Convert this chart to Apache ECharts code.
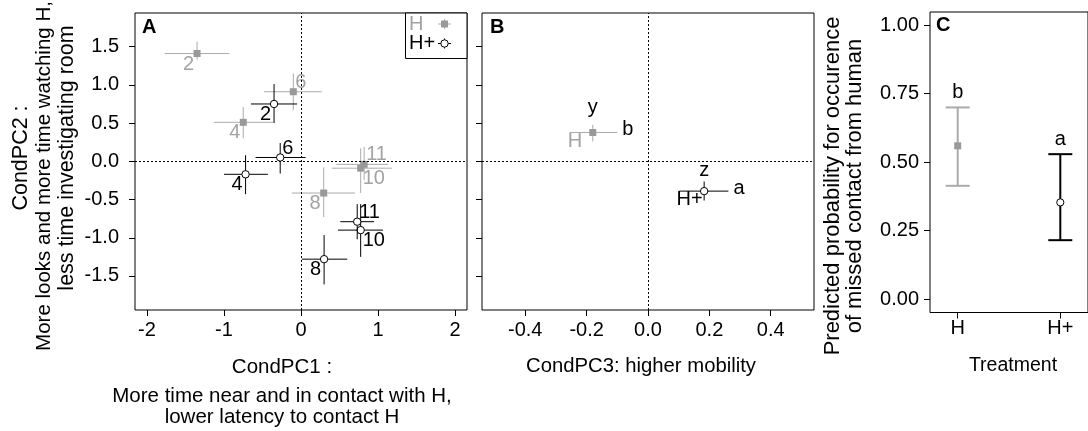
<!DOCTYPE html>
<html><head><meta charset="utf-8">
<script src="https://cdn.jsdelivr.net/npm/echarts@6/dist/echarts.min.js"></script>
<style>html,body{margin:0;padding:0;background:#fff}#c{width:1088px;height:431px}</style>
</head><body><div id="c"></div>
<script>
// ---------------- data ----------------
// Panel A: condition-specific PC scores (mean and CI) per session id
const pointIdsA = ['2','4','6','8','10','11'];
const hPC1    = [-1.35,-0.75,-0.10, 0.295, 0.775, 0.82];
const hPC1Lo  = [-1.77,-1.13,-0.48,-0.12, 0.40, 0.46];
const hPC1Hi  = [-0.93,-0.36, 0.27, 0.70, 1.18, 1.13];
const hPC2    = [ 1.41, 0.51, 0.91,-0.415,-0.09,-0.04];
const hPC2Lo  = [ 1.33, 0.30, 0.67,-0.73,-0.415,-0.245];
const hPC2Hi  = [ 1.565, 0.71, 1.15,-0.08, 0.17, 0.19];
const hpPC1   = [-0.35,-0.72,-0.27, 0.30, 0.775, 0.73];
const hpPC1Lo = [-0.65,-1.00,-0.59, 0.01, 0.48, 0.51];
const hpPC1Hi = [-0.05,-0.43, 0.06, 0.60, 1.065, 0.95];
const hpPC2   = [ 0.75,-0.17, 0.05,-1.28,-0.90,-0.79];
const hpPC2Lo = [ 0.50,-0.43,-0.16,-1.61,-1.25,-1.02];
const hpPC2Hi = [ 1.01, 0.08, 0.24,-0.965,-0.56,-0.56];

// Panel B: PC3 vs PC2 per treatment
const groupsB   = ['H','H+'];
const bPC3      = [-0.180, 0.183];
const bPC3Lo    = [-0.256, 0.102];
const bPC3Hi    = [-0.100, 0.262];
const bPC2      = [ 0.377,-0.390];
const bPC2Lo    = [ 0.259,-0.513];
const bPC2Hi    = [ 0.478,-0.264];
const bTopLetters  = ['y','z'];
const bSideLetters = ['b','a'];

// Panel C: predicted probability per treatment
const treatments = ['H','H+'];
const prob    = [0.5595, 0.353];
const probLo  = [0.4135, 0.215];
const probHi  = [0.6996, 0.529];
const cLetters = ['b','a'];

// tick labels
const xTicksA = [-2,-1,0,1,2];
const yTicksAB = [-1.5,-1,-0.5,0,0.5,1,1.5];
const xTicksB = [-0.4,-0.2,0,0.2,0.4];
const yTicksC = [0,0.25,0.5,0.75,1];
const xTicksC = [1,2];

// ---------------- styles ----------------
const FONT = 'Liberation Sans, Arial, Helvetica, sans-serif';
const FS = 20;
const GRAY_LINE = '#ababab';
const GRAY_FILL = '#999999';
const GRAY_TEXT = '#a3a3a3';
const BLACK = '#000000';
// label placement per point id (style config)
const labelPlaceA = {'2':'bl','4':'bl','6':'tr','8':'bl','10':'br','11':'tr'};
const placeOffsets = {
  bl: {dx:-3, dy:10.5, align:'right'},
  tr: {dx: 2, dy:-9.5, align:'left'},
  br: {dx: 2, dy:10.5, align:'left'}
};
const bTopDy = [-25, -21];
const bNameDx = [-10.5, -1.5];

function txt(x, y, text, color, align, extra, fs) {
  return Object.assign({type:'text', x:x, y:y, silent:true,
    style:{text:text, fill:color, fontSize:fs||FS, fontFamily:FONT, align:align||'center', verticalAlign:'middle'}}, extra||{});
}
function boldTxt(x, y, text) {
  return {type:'text', x:x, y:y, silent:true,
    style:{text:text, fill:BLACK, fontSize:FS, fontWeight:'bold', fontFamily:FONT, align:'left', verticalAlign:'middle'}};
}

function crossShapes(api, color, marker, lw) {
  const x = api.value(0), y = api.value(1);
  const c = api.coord([x, y]);
  const l = api.coord([api.value(2), y]);
  const r = api.coord([api.value(3), y]);
  const b = api.coord([x, api.value(4)]);
  const t = api.coord([x, api.value(5)]);
  const ch = [
    {type:'line', shape:{x1:l[0], y1:c[1], x2:r[0], y2:c[1]}, style:{stroke:color, lineWidth:lw}},
    {type:'line', shape:{x1:c[0], y1:b[1], x2:c[0], y2:t[1]}, style:{stroke:color, lineWidth:lw}}
  ];
  if (marker === 'square') {
    ch.push({type:'rect', shape:{x:c[0]-3.5, y:c[1]-3.5, width:7, height:7}, style:{fill:GRAY_FILL}});
  } else {
    ch.push({type:'circle', shape:{cx:c[0], cy:c[1], r:3.7}, style:{fill:'#fff', stroke:BLACK, lineWidth:1}});
  }
  return {c:c, l:l, r:r, b:b, t:t, children:ch};
}

function renderA(color, marker, textColor) {
  return function(params, api) {
    const s = crossShapes(api, color, marker, 1);
    const id = pointIdsA[params.dataIndex];
    const p = placeOffsets[labelPlaceA[id]];
    s.children.push(txt(s.c[0]+p.dx, s.c[1]+p.dy, id, textColor, p.align));
    return {type:'group', children:s.children};
  };
}

function renderB(params, api) {
  const i = params.dataIndex;
  const isH = i === 0;
  const color = isH ? GRAY_LINE : BLACK;
  const s = crossShapes(api, color, isH ? 'square' : 'circle', 1);
  s.children.push(txt(s.c[0], s.c[1]+bTopDy[i], bTopLetters[i], BLACK, 'center'));
  s.children.push(txt(s.r[0]+5, s.c[1]-3, bSideLetters[i], BLACK, 'left'));
  s.children.push(txt(s.c[0]+bNameDx[i], s.c[1]+8.5, groupsB[i], isH ? GRAY_TEXT : BLACK, 'right'));
  return {type:'group', children:s.children};
}

function renderC(params, api) {
  const i = params.dataIndex;
  const isH = i === 0;
  const color = isH ? GRAY_LINE : BLACK;
  const x = api.value(0);
  const c = api.coord([x, api.value(1)]);
  const lo = api.coord([x, api.value(2)]);
  const hi = api.coord([x, api.value(3)]);
  const hw = 12;
  const ch = [
    {type:'line', shape:{x1:c[0], y1:lo[1], x2:c[0], y2:hi[1]}, style:{stroke:color, lineWidth:2}},
    {type:'line', shape:{x1:c[0]-hw, y1:lo[1], x2:c[0]+hw, y2:lo[1]}, style:{stroke:color, lineWidth:2}},
    {type:'line', shape:{x1:c[0]-hw, y1:hi[1], x2:c[0]+hw, y2:hi[1]}, style:{stroke:color, lineWidth:2}}
  ];
  if (isH) ch.push({type:'rect', shape:{x:c[0]-3.5, y:c[1]-3.5, width:7, height:7}, style:{fill:GRAY_FILL}});
  else ch.push({type:'circle', shape:{cx:c[0], cy:c[1], r:3.6}, style:{fill:'#fff', stroke:BLACK, lineWidth:1}});
  ch.push(txt(c[0], hi[1]-15, cLetters[i], BLACK, 'center'));
  return {type:'group', children:ch};
}

const axisTick = (vals) => ({show:true, customValues:vals, length:6, inside:false, lineStyle:{color:BLACK, width:1}});
const axisLbl = (vals, fmt, margin, show) => ({show:show!==false, customValues:vals, formatter:fmt, margin:margin,
  color:BLACK, fontSize:FS, fontFamily:FONT});
const baseAxis = {type:'value', axisLine:{show:false, onZero:false}, splitLine:{show:false}};

const zeroLine = (xi) => ({
  type:'scatter', xAxisIndex:xi, yAxisIndex:xi, data:[[0,0]], symbolSize:0, silent:true, z:1,
  markLine:{silent:true, symbol:['none','none'], label:{show:false}, animation:false,
    lineStyle:{color:BLACK, width:1, type:[2,2]}, data:[{xAxis:0},{yAxis:0}]}
});

const chart = echarts.init(document.getElementById('c'), null, {renderer:'canvas'});
chart.setOption({
  animation:false,
  backgroundColor:'#fff',
  grid:[
    {left:135, top:13, width:332, height:297, show:true, borderColor:BLACK, borderWidth:1, backgroundColor:'transparent'},
    {left:482, top:13, width:332, height:297, show:true, borderColor:BLACK, borderWidth:1, backgroundColor:'transparent'},
    {left:930, top:12, width:162, height:300.5, show:true, borderColor:BLACK, borderWidth:1, backgroundColor:'transparent'}
  ],
  xAxis:[
    Object.assign({}, baseAxis, {gridIndex:0, min:-2.156, max:2.156, axisTick:axisTick(xTicksA), axisLabel:axisLbl(xTicksA, v=>String(v), 10)}),
    Object.assign({}, baseAxis, {gridIndex:1, min:-0.541, max:0.541, axisTick:axisTick(xTicksB), axisLabel:axisLbl(xTicksB, v=>v.toFixed(1), 10)}),
    Object.assign({}, baseAxis, {gridIndex:2, min:0.73, max:2.27, axisTick:axisTick(xTicksC), axisLabel:axisLbl(xTicksC, v=>treatments[Math.round(v)-1], 6)})
  ],
  yAxis:[
    Object.assign({}, baseAxis, {gridIndex:0, min:-1.945, max:1.94, axisTick:axisTick(yTicksAB), axisLabel:axisLbl(yTicksAB, v=>v.toFixed(1), 16)}),
    Object.assign({}, baseAxis, {gridIndex:1, min:-1.945, max:1.94, axisTick:axisTick(yTicksAB), axisLabel:axisLbl(yTicksAB, v=>v.toFixed(1), 16, false)}),
    Object.assign({}, baseAxis, {gridIndex:2, min:-0.049, max:1.048, axisTick:axisTick(yTicksC), axisLabel:axisLbl(yTicksC, v=>v.toFixed(2), 11)})
  ],
  series:[
    zeroLine(0),
    zeroLine(1),
    {type:'custom', name:'H', xAxisIndex:0, yAxisIndex:0, z:2, clip:false,
      renderItem:renderA(GRAY_LINE, 'square', GRAY_TEXT),
      data:pointIdsA.map((id,i)=>[hPC1[i], hPC2[i], hPC1Lo[i], hPC1Hi[i], hPC2Lo[i], hPC2Hi[i]])},
    {type:'custom', name:'H+', xAxisIndex:0, yAxisIndex:0, z:3, clip:false,
      renderItem:renderA(BLACK, 'circle', BLACK),
      data:pointIdsA.map((id,i)=>[hpPC1[i], hpPC2[i], hpPC1Lo[i], hpPC1Hi[i], hpPC2Lo[i], hpPC2Hi[i]])},
    {type:'custom', xAxisIndex:1, yAxisIndex:1, z:3, clip:false, renderItem:renderB,
      data:groupsB.map((g,i)=>[bPC3[i], bPC2[i], bPC3Lo[i], bPC3Hi[i], bPC2Lo[i], bPC2Hi[i]])},
    {type:'custom', xAxisIndex:2, yAxisIndex:2, z:3, clip:false, renderItem:renderC,
      data:treatments.map((t,i)=>[i+1, prob[i], probLo[i], probHi[i]])}
  ],
  graphic:[
    // panel letters
    boldTxt(142, 27, 'A'),
    boldTxt(490, 27, 'B'),
    boldTxt(936, 25.5, 'C'),
    // legend in A
    {type:'rect', shape:{x:405.5, y:13, width:61.5, height:45.5}, style:{fill:'#fff', stroke:BLACK, lineWidth:1}, z:10},
    Object.assign(txt(409, 24, 'H', GRAY_TEXT, 'left'), {z:11}),
    Object.assign(txt(409, 43.5, 'H+', BLACK, 'left'), {z:11}),
    {type:'line', shape:{x1:438, y1:24, x2:451, y2:24}, style:{stroke:GRAY_LINE, lineWidth:1}, z:11},
    {type:'line', shape:{x1:444.5, y1:19, x2:444.5, y2:29}, style:{stroke:GRAY_LINE, lineWidth:1}, z:11},
    {type:'rect', shape:{x:441, y:20.5, width:7, height:7}, style:{fill:GRAY_FILL}, z:11},
    {type:'line', shape:{x1:438, y1:43.5, x2:451, y2:43.5}, style:{stroke:BLACK, lineWidth:1}, z:11},
    {type:'line', shape:{x1:444.5, y1:38.5, x2:444.5, y2:48.5}, style:{stroke:BLACK, lineWidth:1}, z:11},
    {type:'circle', shape:{cx:444.5, cy:43.5, r:3.7}, style:{fill:'#fff', stroke:BLACK, lineWidth:1}, z:12},
    // axis titles
    txt(21, 158, 'CondPC2 :', BLACK, 'center', {rotation:Math.PI/2}, 21.5),
    txt(44, 176, 'More looks and more time watching H,', BLACK, 'center', {rotation:Math.PI/2}, 20.5),
    txt(67, 158, 'less time investigating room', BLACK, 'center', {rotation:Math.PI/2}, 21.5),
    txt(282, 367, 'CondPC1 :', BLACK, 'center', null, 20.5),
    txt(282, 396, 'More time near and in contact with H,', BLACK, 'center', null, 20.5),
    txt(282, 417, 'lower latency to contact H', BLACK, 'center', null, 20.5),
    txt(641, 366.5, 'CondPC3: higher mobility', BLACK, 'center', null, 20.3),
    txt(833, 186, 'Predicted probability for occurence', BLACK, 'center', {rotation:Math.PI/2}, 22),
    txt(855, 186, 'of missed contact from human', BLACK, 'center', {rotation:Math.PI/2}, 22),
    txt(1013, 366, 'Treatment', BLACK, 'center', null, 19.5)
  ]
});
</script></body></html>
